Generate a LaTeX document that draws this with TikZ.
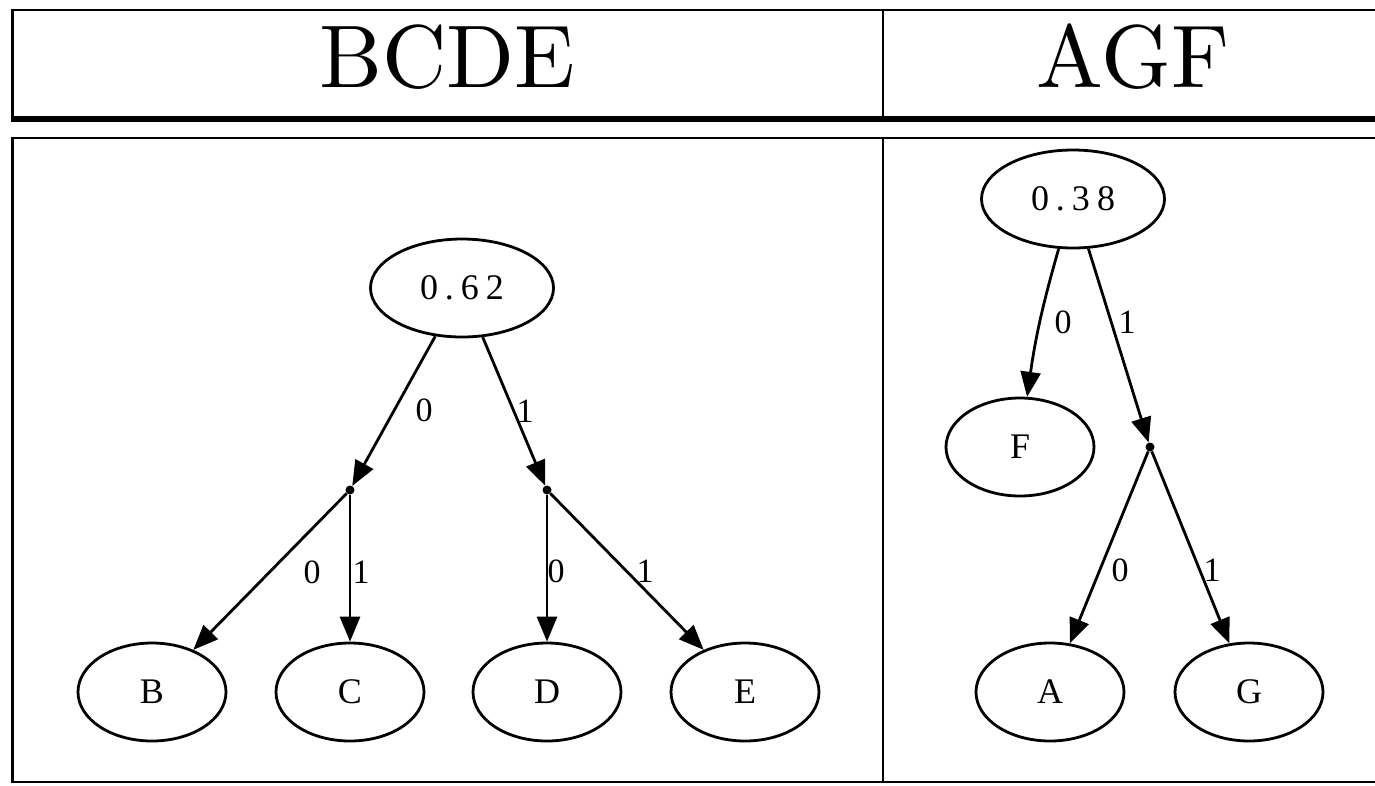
\documentclass[tikz,border=0pt]{standalone}
\usepackage{fontspec}
\newfontfamily\gvfont{Liberation Serif}
\newfontfamily\headfont[Extension=.otf]{lmroman10-regular}
\usetikzlibrary{arrows.meta,shapes.geometric}

\begin{document}
\begin{tikzpicture}[x=1pt,y=-1pt,
  rule/.style={line width=#1},
  gvnode/.style={draw, ellipse, line width=2.8pt, inner sep=0pt,
    minimum width=148pt, minimum height=98pt,
    font=\gvfont\fontsize{36}{40}\selectfont},
  probnode/.style={gvnode, minimum width=183pt},
  junction/.style={circle, fill=black, inner sep=0pt, minimum size=9pt},
  gvedge/.style={line width=2.8pt, -{Triangle[length=25pt,width=20pt]}},
  edgelabel/.style={font=\gvfont\fontsize{34}{36}\selectfont, inner sep=0pt},
  headtext/.style={font=\headfont\fontsize{89}{90}\selectfont, anchor=base, inner sep=0pt}]
\useasboundingbox (0,0) rectangle (1375,785);

% table rules
\draw[rule=2.5pt] (11,10) -- (1390,10);
\draw[rule=3pt] (12.5,8.75) -- (12.5,119);
\draw[rule=2pt] (883,10) -- (883,119);
\draw[rule=5.5pt] (11,119) -- (1390,119);
\draw[rule=2.5pt] (11,138) -- (1390,138);
\draw[rule=3pt] (12.5,137) -- (12.5,783);
\draw[rule=2pt] (883,138) -- (883,782);
\draw[rule=2.5pt] (11,782) -- (1390,782);

% column headings
\node[headtext] (hBCDE) at (447.5,87) {BCDE};
\node[headtext] (hAGF) at (1133,87) {AGF};

% left tree
\node[probnode] (r62) at (462,288) {0\kern7pt.\kern7pt6\kern7pt2};
\node[junction] (jl) at (350,490) {};
\node[junction] (jr) at (547,490) {};
\node[gvnode] (nB) at (152,692) {B};
\node[gvnode] (nC) at (350,692) {C};
\node[gvnode] (nD) at (547,692) {D};
\node[gvnode] (nE) at (745,692) {E};

\draw[gvedge] (r62) -- (jl);
\draw[gvedge] (r62) -- (jr);
\draw[gvedge] (jl) -- (nB);
\draw[gvedge] (jl) -- (nC);
\draw[gvedge] (jr) -- (nD);
\draw[gvedge] (jr) -- (nE);

\node[edgelabel] (l1) at (424,410) {0};
\node[edgelabel] (l2) at (525,411) {1};
\node[edgelabel] (l3) at (312,572) {0};
\node[edgelabel] (l4) at (361,572) {1};
\node[edgelabel] (l5) at (556,571) {0};
\node[edgelabel] (l6) at (645,571) {1};

% right tree
\node[probnode] (r38) at (1073,199) {0\kern7pt.\kern7pt3\kern7pt8};
\node[gvnode] (nF) at (1020,447) {F};
\node[junction] (ja) at (1150,447) {};
\node[gvnode] (nA) at (1050,692) {A};
\node[gvnode] (nG) at (1249,692) {G};

\draw[gvedge] (r38) to[bend right=4] (nF);
\draw[gvedge] (r38) -- (ja);
\draw[gvedge] (ja) -- (nA);
\draw[gvedge] (ja) -- (nG);

\node[edgelabel] (l7) at (1063,322) {0};
\node[edgelabel] (l8) at (1127,322) {1};
\node[edgelabel] (l9) at (1120,570) {0};
\node[edgelabel] (l10) at (1212,570) {1};
\end{tikzpicture}
\end{document}
